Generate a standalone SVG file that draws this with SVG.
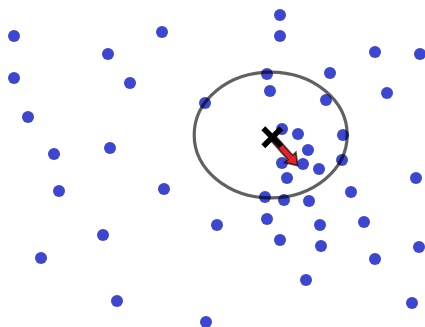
<svg xmlns="http://www.w3.org/2000/svg" width="425" height="327" viewBox="0 0 425 327">
<style>
.d{fill:#3d46cf}
.ring{fill:none;stroke:#000;stroke-opacity:0.62;stroke-width:3.2}
.arrow{fill:#e3232b;stroke:#000;stroke-opacity:0.65;stroke-width:1.8;stroke-linejoin:miter}
.x{stroke:#000;stroke-width:5.5;stroke-linecap:butt}
</style>
<rect width="425" height="327" fill="#fff"/>
<g id="dots">
<circle class="d" cx="14" cy="36" r="6"/>
<circle class="d" cx="162" cy="32" r="6"/>
<circle class="d" cx="108" cy="54" r="6"/>
<circle class="d" cx="14" cy="78" r="6"/>
<circle class="d" cx="130" cy="83" r="6"/>
<circle class="d" cx="205" cy="103" r="6"/>
<circle class="d" cx="28" cy="117" r="6"/>
<circle class="d" cx="54" cy="154" r="6"/>
<circle class="d" cx="110" cy="148" r="6"/>
<circle class="d" cx="280" cy="15" r="6"/>
<circle class="d" cx="280" cy="36" r="6"/>
<circle class="d" cx="375" cy="52" r="6"/>
<circle class="d" cx="420" cy="54" r="6"/>
<circle class="d" cx="267" cy="74" r="6"/>
<circle class="d" cx="330" cy="73" r="6"/>
<circle class="d" cx="270" cy="91" r="6"/>
<circle class="d" cx="387" cy="93" r="6"/>
<circle class="d" cx="326" cy="100" r="6"/>
<circle class="d" cx="282" cy="129" r="6"/>
<circle class="d" cx="298" cy="134" r="6"/>
<circle class="d" cx="343" cy="135" r="6"/>
<circle class="d" cx="308" cy="150" r="6"/>
<circle class="d" cx="342" cy="160" r="6"/>
<circle class="d" cx="282" cy="163" r="6"/>
<circle class="d" cx="303" cy="164" r="6"/>
<circle class="d" cx="319" cy="169" r="6"/>
<circle class="d" cx="287" cy="178" r="6"/>
<circle class="d" cx="416" cy="178" r="6"/>
<circle class="d" cx="351" cy="192" r="6"/>
<circle class="d" cx="265" cy="197" r="6"/>
<circle class="d" cx="284" cy="200" r="6"/>
<circle class="d" cx="309" cy="201" r="6"/>
<circle class="d" cx="217" cy="225" r="6"/>
<circle class="d" cx="267" cy="219" r="6"/>
<circle class="d" cx="320" cy="225" r="6"/>
<circle class="d" cx="364" cy="222" r="6"/>
<circle class="d" cx="280" cy="240" r="6"/>
<circle class="d" cx="321" cy="246" r="6"/>
<circle class="d" cx="419" cy="247" r="6"/>
<circle class="d" cx="375" cy="259" r="6"/>
<circle class="d" cx="306" cy="280" r="6"/>
<circle class="d" cx="412" cy="303" r="6"/>
<circle class="d" cx="206" cy="322" r="6"/>
<circle class="d" cx="59" cy="191" r="6"/>
<circle class="d" cx="164" cy="189" r="6"/>
<circle class="d" cx="103" cy="235" r="6"/>
<circle class="d" cx="41" cy="258" r="6"/>
<circle class="d" cx="117" cy="301" r="6"/>
</g>
<g id="ring">
<ellipse class="ring" cx="270.7" cy="135" rx="76.5" ry="62.8"/>
</g>
<g id="arrow" transform="translate(272.3,137.3) rotate(48.2)">
<polygon class="arrow" points="0,-3.2 27,-3.2 27,-7.5 38,0 27,7.5 27,3.2 0,3.2"/>
</g>
<g id="cross" transform="translate(272.3,137.3)">
<line class="x" x1="-9" y1="-9" x2="9" y2="9"/>
<line class="x" x1="-9" y1="9" x2="9" y2="-9"/>
</g>
</svg>
